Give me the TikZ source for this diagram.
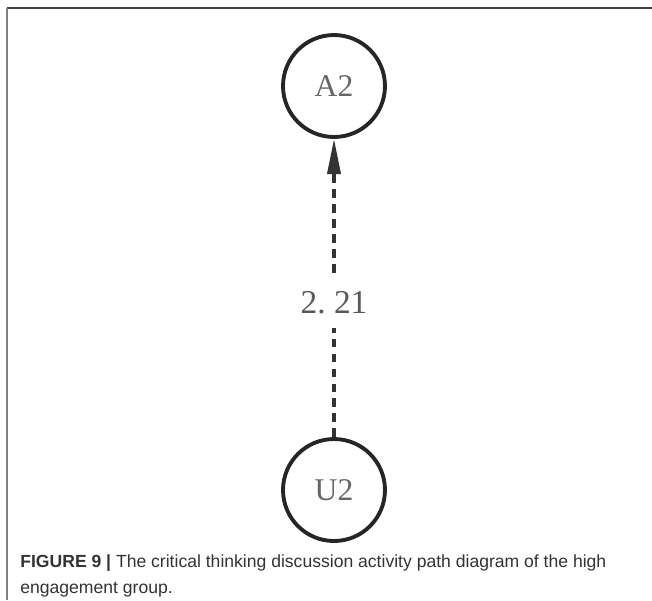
\documentclass[tikz,border=0pt]{standalone}
\usepackage{fontspec}
\setmainfont{Liberation Serif}
\newfontfamily\capfont{Liberation Sans}
\usetikzlibrary{positioning,arrows.meta}

\begin{document}
\begin{tikzpicture}[x=0.02cm,y=-0.02cm,
        state/.style={circle,draw=black!85,line width=2.2pt,minimum size=2.04cm,inner sep=0pt,
            font=\fontsize{18}{18}\selectfont,text=black!60},
        pathline/.style={draw=black!80,line width=1.8pt,dash pattern=on 5pt off 3.5pt,
            -{Triangle[length=20pt,width=7.5pt]}},
        weight/.style={fill=white,inner xsep=3pt,inner ysep=8pt,font=\fontsize{19}{19}\selectfont,text=black!65}]

        \useasboundingbox (0,0) rectangle (652,600);

        % frame round the figure
        \draw[black!75,line width=1pt] (7,8) -- (652,8);
        \draw[black!50,line width=1pt] (7,8) -- (7,600);

        % states
        \node[state] (A2) at (334,86) {A2};
        \node[state] (U2) at (334,490) {U2};

        % path with its weight
        \draw[pathline] (U2) -- node[weight,pos=0.45] (w) {2.\ 21} (A2);

        % caption
        \node[anchor=base west,inner sep=0pt,align=left,text=black!80,
            font=\capfont\fontsize{10}{14.6}\selectfont] (cap) at (20,593)
            {\textbf{FIGURE 9 |} The critical thinking discussion activity path diagram of the high\\
            engagement group.};

\end{tikzpicture}
\end{document}
